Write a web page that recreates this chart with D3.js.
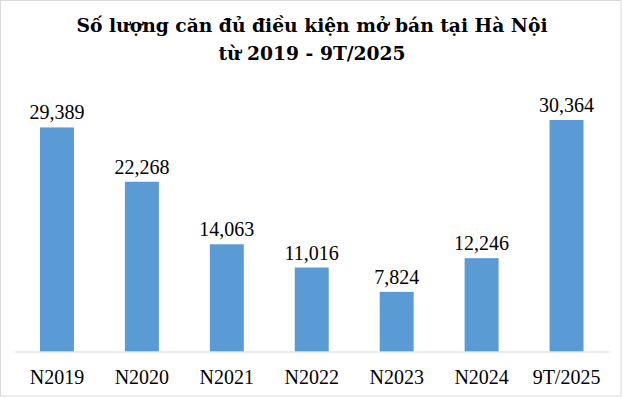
<!DOCTYPE html>
<html>
<head>
<meta charset="utf-8">
<script src="https://cdn.jsdelivr.net/npm/d3@7"></script>
<style>
  body { margin: 0; background: #fff; }
  text { font-family: "Liberation Serif", "DejaVu Serif", serif; }
  text.title { font-family: "DejaVu Serif", serif; }
</style>
</head>
<body>
<script>
  // du lieu doc tu hinh
  var categories = ["N2019", "N2020", "N2021", "N2022", "N2023", "N2024", "9T/2025"];
  var values = [29389, 22268, 14063, 11016, 7824, 12246, 30364];
  var titleLines = ["Số lượng căn đủ điều kiện mở bán tại Hà Nội", "từ 2019 - 9T/2025"];

  var width = 623, height = 398;
  var margin = {top: 0, right: 14, bottom: 46, left: 14};

  var svg = d3.select("body").append("svg")
    .attr("width", width)
    .attr("height", height);

  // khung vien
  svg.append("rect")
    .attr("x", 0.5).attr("y", 0.5)
    .attr("width", 620.5).attr("height", 395.5)
    .attr("fill", "#fff")
    .attr("stroke", "#d9d9d9");

  var baseY = height - margin.bottom - 0.5;

  var xScale = d3.scaleBand()
    .domain(categories)
    .range([margin.left + 0.5, 609])
    .paddingInner(0.6)
    .paddingOuter(0.3);

  var yScale = d3.scaleLinear()
    .domain([0, 30364])
    .range([baseY, 120]);

  svg.selectAll("rect.bar")
    .data(values)
    .enter()
    .append("rect")
    .attr("class", "bar")
    .attr("x", function(d, i) { return xScale(categories[i]); })
    .attr("y", function(d) { return yScale(d); })
    .attr("width", xScale.bandwidth())
    .attr("height", function(d) { return baseY - yScale(d); })
    .attr("fill", "#5b9bd5");

  svg.selectAll("text.val")
    .data(values)
    .enter()
    .append("text")
    .attr("class", "val")
    .attr("x", function(d, i) { return xScale(categories[i]) + xScale.bandwidth() / 2; })
    .attr("y", function(d) { return yScale(d) - 8; })
    .attr("text-anchor", "middle")
    .attr("font-size", "20px")
    .attr("fill", "#000")
    .text(function(d) { return d3.format(",")(d); });

  var xAxis = d3.axisBottom(xScale).tickSize(0).tickPadding(18);
  var xAxisGroup = svg.append("g")
    .attr("transform", "translate(0," + baseY + ")")
    .call(xAxis);
  xAxisGroup.select(".domain").attr("stroke", "#d9d9d9").attr("stroke-width", 1);
  xAxisGroup.selectAll("text")
    .style("font-family", "Liberation Serif, DejaVu Serif, serif")
    .attr("font-size", "20px")
    .attr("fill", "#000");

  svg.selectAll("text.title")
    .data(titleLines)
    .enter()
    .append("text")
    .attr("class", "title")
    .attr("x", 312)
    .attr("y", function(d, i) { return 32 + i * 28; })
    .attr("text-anchor", "middle")
    .attr("font-size", "18.7px")
    .attr("font-weight", "bold")
    .attr("fill", "#000")
    .text(function(d) { return d; });
</script>
</body>
</html>
